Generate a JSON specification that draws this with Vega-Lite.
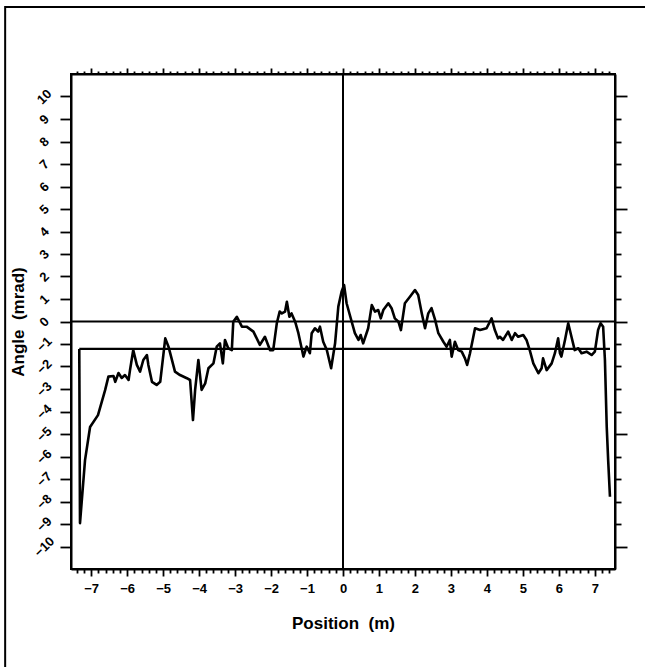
{
  "$schema": "https://vega.github.io/schema/vega-lite/v6.json",
  "width": 544,
  "height": 495,
  "autosize": {"type": "none"},
  "padding": {"left": 71, "top": 74, "right": 30, "bottom": 98},
  "background": "white",
  "config": {
    "view": {"stroke": "black", "strokeWidth": 2},
    "axis": {
      "domainColor": "black",
      "domainWidth": 2,
      "tickColor": "black",
      "tickWidth": 1.8,
      "grid": false,
      "labelFont": "Liberation Sans",
      "labelFontWeight": "bold",
      "labelFontSize": 13,
      "labelColor": "black",
      "titleFont": "Liberation Sans",
      "titleFontWeight": "bold",
      "titleFontSize": 17,
      "titleColor": "black",
      "labelOverlap": false,
      "labelFlush": false
    }
  },
  "datasets": {
    "curve": [
      {"x": -7.33, "y": -1.22}, {"x": -7.31, "y": -8.96}, {"x": -7.17, "y": -6.16}, {"x": -7.03, "y": -4.69},
      {"x": -6.81, "y": -4.16}, {"x": -6.61, "y": -3.04}, {"x": -6.52, "y": -2.45}, {"x": -6.38, "y": -2.42},
      {"x": -6.33, "y": -2.68}, {"x": -6.24, "y": -2.29}, {"x": -6.15, "y": -2.51}, {"x": -6.06, "y": -2.38},
      {"x": -5.96, "y": -2.6}, {"x": -5.92, "y": -2.16}, {"x": -5.83, "y": -1.27}, {"x": -5.73, "y": -1.93},
      {"x": -5.64, "y": -2.23}, {"x": -5.55, "y": -1.71}, {"x": -5.45, "y": -1.49}, {"x": -5.41, "y": -1.93},
      {"x": -5.31, "y": -2.68}, {"x": -5.18, "y": -2.82}, {"x": -5.08, "y": -2.68}, {"x": -4.94, "y": -0.75},
      {"x": -4.85, "y": -1.12}, {"x": -4.67, "y": -2.23}, {"x": -4.53, "y": -2.38}, {"x": -4.34, "y": -2.52},
      {"x": -4.25, "y": -2.6}, {"x": -4.17, "y": -4.38}, {"x": -4.11, "y": -3.04}, {"x": -4.02, "y": -1.71},
      {"x": -3.93, "y": -3.04}, {"x": -3.83, "y": -2.75}, {"x": -3.74, "y": -2.08}, {"x": -3.6, "y": -1.86},
      {"x": -3.51, "y": -1.12}, {"x": -3.42, "y": -0.97}, {"x": -3.34, "y": -1.86}, {"x": -3.28, "y": -0.82},
      {"x": -3.19, "y": -1.19}, {"x": -3.09, "y": -1.27}, {"x": -3.05, "y": -0.01}, {"x": -2.95, "y": 0.21},
      {"x": -2.81, "y": -0.23}, {"x": -2.68, "y": -0.23}, {"x": -2.49, "y": -0.45}, {"x": -2.31, "y": -1.04},
      {"x": -2.17, "y": -0.68}, {"x": -2.03, "y": -1.27}, {"x": -1.94, "y": -1.27}, {"x": -1.84, "y": -0.08},
      {"x": -1.76, "y": 0.44}, {"x": -1.7, "y": 0.36}, {"x": -1.61, "y": 0.44}, {"x": -1.56, "y": 0.88},
      {"x": -1.49, "y": 0.21}, {"x": -1.43, "y": 0.36}, {"x": -1.33, "y": -0.01}, {"x": -1.24, "y": -0.52},
      {"x": -1.1, "y": -1.56}, {"x": -1.01, "y": -1.12}, {"x": -0.92, "y": -1.41}, {"x": -0.87, "y": -0.52},
      {"x": -0.78, "y": -0.3}, {"x": -0.69, "y": -0.45}, {"x": -0.64, "y": -0.23}, {"x": -0.55, "y": -0.9},
      {"x": -0.45, "y": -1.27}, {"x": -0.33, "y": -2.08}, {"x": -0.22, "y": -0.97}, {"x": -0.13, "y": 0.66},
      {"x": -0.04, "y": 1.32}, {"x": 0.03, "y": 1.62}, {"x": 0.1, "y": 0.81}, {"x": 0.19, "y": 0.29},
      {"x": 0.33, "y": -0.52}, {"x": 0.43, "y": -0.82}, {"x": 0.49, "y": -0.6}, {"x": 0.56, "y": -0.97},
      {"x": 0.7, "y": -0.3}, {"x": 0.8, "y": 0.73}, {"x": 0.89, "y": 0.44}, {"x": 0.98, "y": 0.51},
      {"x": 1.05, "y": 0.14}, {"x": 1.12, "y": 0.51}, {"x": 1.26, "y": 0.81}, {"x": 1.35, "y": 0.59},
      {"x": 1.44, "y": 0.14}, {"x": 1.54, "y": -0.01}, {"x": 1.61, "y": -0.38}, {"x": 1.72, "y": 0.81},
      {"x": 1.86, "y": 1.1}, {"x": 2.0, "y": 1.4}, {"x": 2.09, "y": 1.18}, {"x": 2.19, "y": 0.36},
      {"x": 2.28, "y": -0.3}, {"x": 2.37, "y": 0.36}, {"x": 2.46, "y": 0.59}, {"x": 2.56, "y": 0.07},
      {"x": 2.65, "y": -0.52}, {"x": 2.79, "y": -0.9}, {"x": 2.88, "y": -1.12}, {"x": 2.97, "y": -0.82},
      {"x": 3.02, "y": -1.56}, {"x": 3.11, "y": -0.9}, {"x": 3.2, "y": -1.27}, {"x": 3.3, "y": -1.34},
      {"x": 3.39, "y": -1.64}, {"x": 3.45, "y": -1.93}, {"x": 3.53, "y": -1.41}, {"x": 3.67, "y": -0.3},
      {"x": 3.81, "y": -0.38}, {"x": 3.99, "y": -0.3}, {"x": 4.13, "y": 0.14}, {"x": 4.22, "y": -0.38},
      {"x": 4.31, "y": -0.75}, {"x": 4.36, "y": -0.68}, {"x": 4.45, "y": -0.82}, {"x": 4.59, "y": -0.45},
      {"x": 4.69, "y": -0.82}, {"x": 4.78, "y": -0.52}, {"x": 4.87, "y": -0.68}, {"x": 5.01, "y": -0.6},
      {"x": 5.1, "y": -0.82}, {"x": 5.19, "y": -1.27}, {"x": 5.29, "y": -1.86}, {"x": 5.43, "y": -2.3},
      {"x": 5.52, "y": -2.08}, {"x": 5.56, "y": -1.64}, {"x": 5.66, "y": -2.16}, {"x": 5.8, "y": -1.86},
      {"x": 5.89, "y": -1.41}, {"x": 5.98, "y": -0.75}, {"x": 6.03, "y": -1.41}, {"x": 6.07, "y": -1.56},
      {"x": 6.17, "y": -0.82}, {"x": 6.26, "y": -0.08}, {"x": 6.35, "y": -0.68}, {"x": 6.44, "y": -1.27},
      {"x": 6.54, "y": -1.19}, {"x": 6.63, "y": -1.41}, {"x": 6.77, "y": -1.34}, {"x": 6.91, "y": -1.49},
      {"x": 7.0, "y": -1.34}, {"x": 7.09, "y": -0.38}, {"x": 7.16, "y": -0.08}, {"x": 7.23, "y": -0.23},
      {"x": 7.28, "y": -1.71}, {"x": 7.33, "y": -4.68}, {"x": 7.37, "y": -6.16}, {"x": 7.42, "y": -7.79}
    ],
    "mean": [{"x1": -7.33, "x2": 7.42, "y": -1.22}]
  },
  "layer": [
    {
      "data": {"name": "curve"},
      "mark": {"type": "line", "color": "black", "strokeWidth": 2.6, "strokeJoin": "round"},
      "encoding": {
        "x": {
          "field": "x", "type": "quantitative",
          "scale": {"domain": [-7.56, 7.56], "nice": false, "zero": false},
          "axis": {
            "orient": "bottom",
            "title": "Position\u00a0\u00a0(m)",
            "titlePadding": 20,
            "values": [-7.4,-7.2,-7,-6.8,-6.6,-6.4,-6.2,-6,-5.8,-5.6,-5.4,-5.2,-5,-4.8,-4.6,-4.4,-4.2,-4,-3.8,-3.6,-3.4,-3.2,-3,-2.8,-2.6,-2.4,-2.2,-2,-1.8,-1.6,-1.4,-1.2,-1,-0.8,-0.6,-0.4,-0.2,0,0.2,0.4,0.6,0.8,1,1.2,1.4,1.6,1.8,2,2.2,2.4,2.6,2.8,3,3.2,3.4,3.6,3.8,4,4.2,4.4,4.6,4.8,5,5.2,5.4,5.6,5.8,6,6.2,6.4,6.6,6.8,7,7.2,7.4],
            "tickSize": {"condition": {"test": "abs(datum.value - round(datum.value)) < 0.01", "value": 7}, "value": 4},
            "labelExpr": "abs(datum.value - round(datum.value)) < 0.01 ? format(round(datum.value), 'd') : ''",
            "labelPadding": 6
          }
        },
        "y": {
          "field": "y", "type": "quantitative",
          "scale": {"domain": [-11, 11], "nice": false, "zero": false},
          "axis": {
            "orient": "left",
            "title": "Angle\u00a0\u00a0(mrad)",
            "titlePadding": 4,
            "values": [-10,-9,-8,-7,-6,-5,-4,-3,-2,-1,0,1,2,3,4,5,6,7,8,9,10],
            "tickSize": 11,
            "labelAngle": -45,
            "labelAlign": "center",
            "labelBaseline": "middle",
            "labelPadding": 16,
            "labelExpr": "format(datum.value, 'd')"
          }
        }
      }
    },
    {
      "data": {"name": "mean"},
      "mark": {"type": "rule", "color": "black", "strokeWidth": 2.2},
      "encoding": {
        "x": {
          "field": "x1", "type": "quantitative",
          "axis": {
            "orient": "top",
            "title": null,
            "labels": false,
            "values": [-7.4,-7.2,-7,-6.8,-6.6,-6.4,-6.2,-6,-5.8,-5.6,-5.4,-5.2,-5,-4.8,-4.6,-4.4,-4.2,-4,-3.8,-3.6,-3.4,-3.2,-3,-2.8,-2.6,-2.4,-2.2,-2,-1.8,-1.6,-1.4,-1.2,-1,-0.8,-0.6,-0.4,-0.2,0,0.2,0.4,0.6,0.8,1,1.2,1.4,1.6,1.8,2,2.2,2.4,2.6,2.8,3,3.2,3.4,3.6,3.8,4,4.2,4.4,4.6,4.8,5,5.2,5.4,5.6,5.8,6,6.2,6.4,6.6,6.8,7,7.2,7.4],
            "tickSize": {"condition": {"test": "abs(datum.value - round(datum.value)) < 0.01", "value": 6}, "value": 3}
          }
        },
        "x2": {"field": "x2"},
        "y": {
          "field": "y", "type": "quantitative",
          "axis": {
            "orient": "right",
            "title": null,
            "labels": false,
            "values": [-10,-9,-8,-7,-6,-5,-4,-3,-2,-1,0,1,2,3,4,5,6,7,8,9,10],
            "tickSize": {"condition": {"test": "abs(datum.value % 5) < 0.01", "value": 12}, "value": 6}
          }
        }
      }
    },
    {
      "data": {"values": [{}]},
      "mark": {"type": "rule", "color": "black", "strokeWidth": 2.2},
      "encoding": {"y": {"datum": 0, "type": "quantitative", "axis": null}}
    },
    {
      "data": {"values": [{}]},
      "mark": {"type": "rule", "color": "black", "strokeWidth": 2},
      "encoding": {"x": {"datum": 0, "type": "quantitative", "axis": null}}
    },
    {
      "data": {"values": [{}]},
      "mark": {"type": "rect", "filled": false, "color": "black", "strokeWidth": 2, "clip": false},
      "encoding": {
        "x": {"datum": -9.39, "type": "quantitative", "axis": null},
        "x2": {"datum": 14},
        "y": {"datum": 13.98, "type": "quantitative", "axis": null},
        "y2": {"datum": -18}
      }
    }
  ],
  "resolve": {"axis": {"x": "independent", "y": "independent"}}
}
